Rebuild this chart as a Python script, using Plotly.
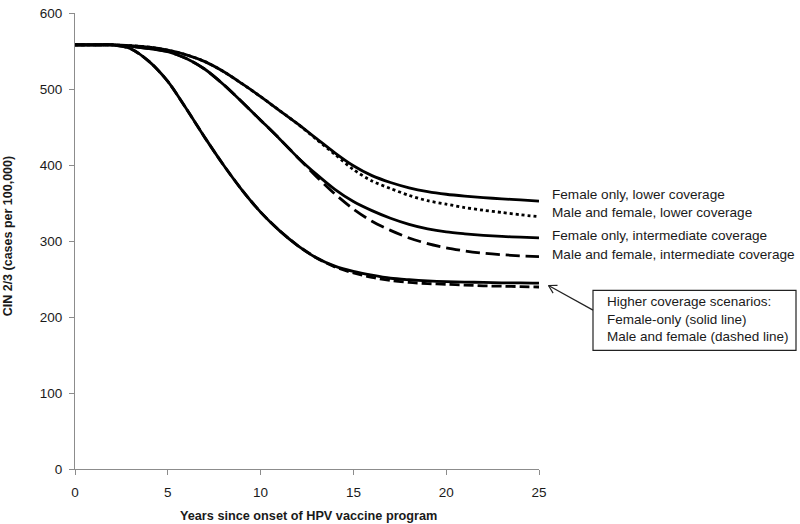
import plotly.graph_objects as go

years = list(range(0, 26))

female_lower = [558, 558, 558, 557, 555, 551, 545, 536, 523, 507, 490, 472, 454, 435,
                416, 399, 386, 377, 370, 365, 361.5, 359, 357, 355.5, 354, 352.5]
male_female_lower = [558, 558, 558, 557, 555, 551, 545, 536, 523, 507, 490, 472, 454, 434,
                     414, 394, 379, 369, 360, 353, 348.5, 344, 340.5, 337.5, 334.5, 332]
female_inter = [558, 558, 558, 556, 553, 549, 540, 526, 506, 483, 459, 435, 410, 388,
                368, 352, 340, 330, 322, 316, 312, 309.5, 307.5, 306, 305, 304]
male_female_inter = [558, 558, 558, 556, 553, 549, 540, 526, 506, 483, 459, 435, 410, 385,
                     362, 342, 326, 314, 304, 296.5, 291, 287, 284, 282, 280.5, 279.5]
female_higher = [558, 558, 558, 553, 536, 510, 474, 436, 400, 367, 338, 314, 294, 278,
                 267, 260, 255, 251, 249, 247.5, 246.5, 246, 245.5, 245, 245, 244.5]
male_female_higher = [558, 558, 558, 553, 536, 510, 474, 436, 400, 367, 338, 314, 294, 278,
                      266, 258, 252, 248, 245.5, 244, 243, 242, 241, 240.5, 240, 239.5]

line_labels = ["Female only, lower coverage",
               "Male and female, lower coverage",
               "Female only, intermediate coverage",
               "Male and female, intermediate coverage"]
box_lines = ["Higher coverage scenarios:",
             "Female-only (solid line)",
             "Male and female (dashed line)"]

x_ticks = [0, 5, 10, 15, 20, 25]
y_ticks = [0, 100, 200, 300, 400, 500, 600]

FONT = "Liberation Sans, Arial, sans-serif"
TXT = "#1a1a1a"

series = [
    (female_lower, "solid"),
    (male_female_lower, "dot"),
    (female_inter, "solid"),
    (male_female_inter, "14px,6px"),
    (female_higher, "solid"),
    (male_female_higher, "10px,4px"),
]

fig = go.Figure()
for vals, dash in series:
    fig.add_trace(go.Scatter(
        x=years, y=vals, mode="lines",
        line=dict(color="black", width=2.8, dash=dash, shape="spline", smoothing=0.8),
        showlegend=False, hoverinfo="skip"))

W0, H0 = 75, 6
PW, PH = 464, 463.5


def px2paper(px, py):
    return (px - W0) / PW, (H0 + PH - py) / PH


annotations = []
label_py = [190.5, 208.5, 232, 251]
for txt, py in zip(line_labels, label_py):
    xp, yp = px2paper(550, py)
    annotations.append(dict(xref="paper", yref="paper", x=xp, y=yp, text=txt,
                            showarrow=False, xanchor="left", yanchor="middle",
                            font=dict(family=FONT, size=13.6, color=TXT)))

box_py = [299.5, 317.5, 335]
for txt, py in zip(box_lines, box_py):
    xp, yp = px2paper(605, py)
    annotations.append(dict(xref="paper", yref="paper", x=xp, y=yp, text=txt,
                            showarrow=False, xanchor="left", yanchor="middle",
                            font=dict(family=FONT, size=13.5, color=TXT)))

# axis titles
xp, yp = px2paper(8, 233)
annotations.append(dict(xref="paper", yref="paper", x=xp, y=yp,
                        text="<b>CIN 2/3 (cases per 100,000)</b>", textangle=-90,
                        showarrow=False, xanchor="center", yanchor="middle",
                        font=dict(family=FONT, size=12.5, color=TXT)))
xp, yp = px2paper(308.5, 517)
annotations.append(dict(xref="paper", yref="paper", x=xp, y=yp,
                        text="<b>Years since onset of HPV vaccine program</b>",
                        showarrow=False, xanchor="center", yanchor="middle",
                        font=dict(family=FONT, size=12.7, color=TXT)))

shapes = []
bx0, by1 = px2paper(593, 288)
bx1, by0 = px2paper(796, 349)
shapes.append(dict(type="rect", xref="paper", yref="paper", x0=bx0, x1=bx1, y0=by0, y1=by1,
                   line=dict(color="#222", width=1.2), fillcolor="rgba(0,0,0,0)"))

# callout arrow (tail at box, open head near the higher-coverage lines)
head = px2paper(548.5, 283)
tail = px2paper(593, 308)
leg1 = px2paper(553.1, 290.7)
leg2 = px2paper(557.5, 282.9)
for a, b in [(tail, head), (leg1, head), (leg2, head)]:
    shapes.append(dict(type="line", xref="paper", yref="paper",
                       x0=a[0], y0=a[1], x1=b[0], y1=b[1],
                       line=dict(color="#222", width=1.2)))

fig.update_layout(
    width=800, height=524,
    margin=dict(l=75, r=261, t=6, b=54.5, pad=0),
    paper_bgcolor="white", plot_bgcolor="white",
    font=dict(family=FONT, color=TXT),
    annotations=annotations, shapes=shapes,
    xaxis=dict(range=[0, 25], tickvals=x_ticks, showgrid=False, zeroline=False,
               showline=True, linecolor="#8c8c8c", linewidth=1,
               ticks="outside", ticklen=5, tickcolor="#8c8c8c",
               ticklabeloverflow="allow", ticklabelstandoff=6,
               tickfont=dict(family=FONT, size=13.5, color=TXT)),
    yaxis=dict(range=[0, 600], tickvals=y_ticks, showgrid=False, zeroline=False,
               showline=True, linecolor="#8c8c8c", linewidth=1,
               ticks="outside", ticklen=5, tickcolor="#8c8c8c",
               ticklabeloverflow="allow", ticklabelstandoff=4,
               tickfont=dict(family=FONT, size=13.5, color=TXT)),
)

fig.write_html("out.html", config={"displayModeBar": False},
               post_script="document.body.style.margin='0';document.body.style.overflow='hidden';")
